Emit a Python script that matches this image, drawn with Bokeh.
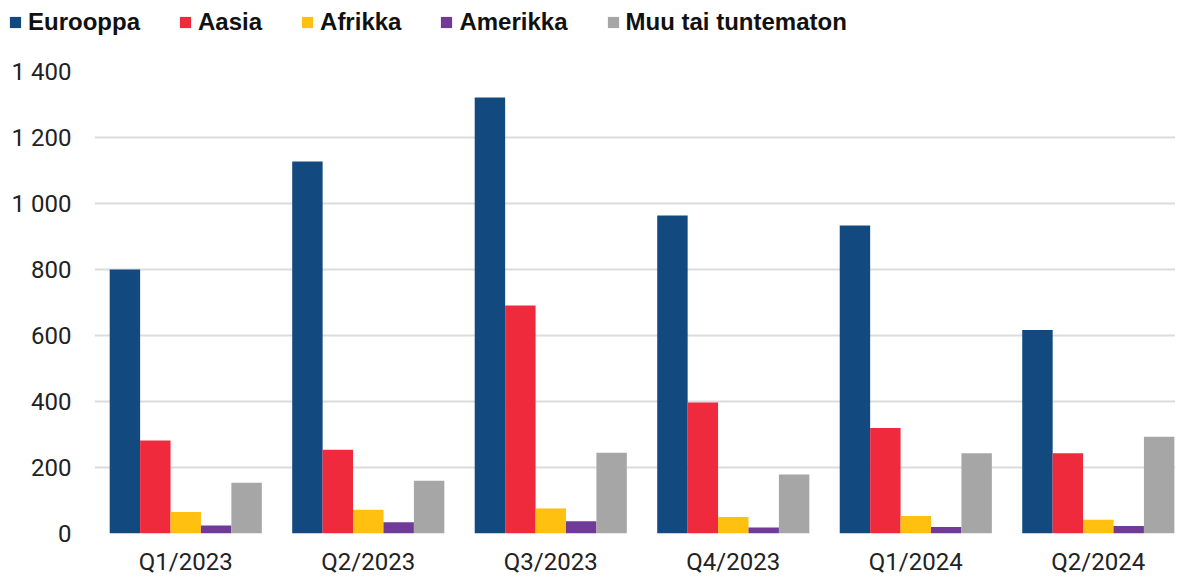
from bokeh.plotting import figure
from bokeh.layouts import column
from bokeh.models import ColumnDataSource, Range1d, FixedTicker, Legend, LegendItem, CustomJSTickFormatter
from bokeh.transform import dodge
from bokeh.embed import file_html
from bokeh.resources import INLINE

quarters = ["Q1/2023", "Q2/2023", "Q3/2023", "Q4/2023", "Q1/2024", "Q2/2024"]
eurooppa = [800, 1127, 1321, 964, 933, 617]
aasia = [282, 254, 691, 397, 320, 243]
afrikka = [65, 72, 76, 50, 53, 42]
amerikka = [24, 34, 37, 18, 20, 23]
muu = [154, 160, 245, 179, 243, 293]

series_names = ["Eurooppa", "Aasia", "Afrikka", "Amerikka", "Muu tai tuntematon"]
series_keys = ["eurooppa", "aasia", "afrikka", "amerikka", "muu"]
colors = ["#124a80", "#ee2a3c", "#ffc010", "#6f3b96", "#a6a6a6"]

source = ColumnDataSource(dict(
    x=list(range(len(quarters))),
    eurooppa=eurooppa, aasia=aasia, afrikka=afrikka, amerikka=amerikka, muu=muu,
))

W = 1175
LEG_H = 44
bw = 0.1667

# ---- legend strip (its own small figure, so the legend can start left of the plot frame)
leg = figure(width=W, height=LEG_H, output_backend="svg", toolbar_location=None,
             x_axis_type=None, y_axis_type=None, frame_align=False,
             x_range=Range1d(-0.5, 5.5), y_range=Range1d(0, 1400),
             min_border_left=0, min_border_right=0, min_border_top=0, min_border_bottom=0)
leg.outline_line_color = None
leg.xgrid.grid_line_color = None
leg.ygrid.grid_line_color = None
# same series, hidden in this strip: they only feed the legend swatches
leg_renderers = [leg.vbar(x="x", top=k, width=bw, source=source, fill_color=c, line_color=None,
                          visible=False)
                 for k, c in zip(series_keys, colors)]
legend = Legend(items=[LegendItem(label=n, renderers=[r]) for n, r in zip(series_names, leg_renderers)],
                orientation="horizontal", location=(8, 8),
                padding=0, margin=0, spacing=38, label_standoff=6,
                glyph_width=14, glyph_height=14, label_height=24,
                label_text_font="Liberation Sans", label_text_font_style="bold",
                label_text_font_size="24px", label_text_color="#111111",
                inactive_fill_alpha=0,
                border_line_color=None, background_fill_alpha=0)
leg.add_layout(legend)

# ---- main chart
p = figure(width=W, height=578 - LEG_H, output_backend="svg", toolbar_location=None,
           x_range=Range1d(-0.5, 5.423), y_range=Range1d(0, 1400), frame_align=False,
           min_border_left=94, min_border_right=0, min_border_top=71 - LEG_H, min_border_bottom=45)
p.outline_line_color = None
p.background_fill_color = "white"

for i, (k, c) in enumerate(zip(series_keys, colors)):
    p.vbar(x=dodge("x", (i - 2) * bw), top=k, width=bw, source=source,
           fill_color=c, line_color=None)

p.xaxis.ticker = FixedTicker(ticks=list(range(len(quarters))))
p.xaxis.formatter = CustomJSTickFormatter(args=dict(labels=quarters),
                                          code="return labels[Math.round(tick)];")
p.yaxis.ticker = FixedTicker(ticks=[0, 200, 400, 600, 800, 1000, 1200, 1400])
p.yaxis.formatter = CustomJSTickFormatter(code="return tick.toFixed(0).replace(/\\B(?=(\\d{3})+(?!\\d))/g, ' ');")
for ax in [p.xaxis[0], p.yaxis[0]]:
    ax.axis_line_color = None
    ax.major_tick_line_color = None
    ax.minor_tick_line_color = None
    ax.major_tick_out = 0
    ax.major_tick_in = 0
    ax.major_label_text_font = "Roboto"
    ax.major_label_text_font_size = "24px"
    ax.major_label_text_color = "#222222"
p.yaxis.major_label_standoff = 23
p.xaxis.major_label_standoff = 14

p.xgrid.grid_line_color = None
p.ygrid.grid_line_color = "#dcdcdc"
p.ygrid.grid_line_width = 2

open("out.html", "w").write(file_html(column(leg, p, spacing=0), INLINE))
